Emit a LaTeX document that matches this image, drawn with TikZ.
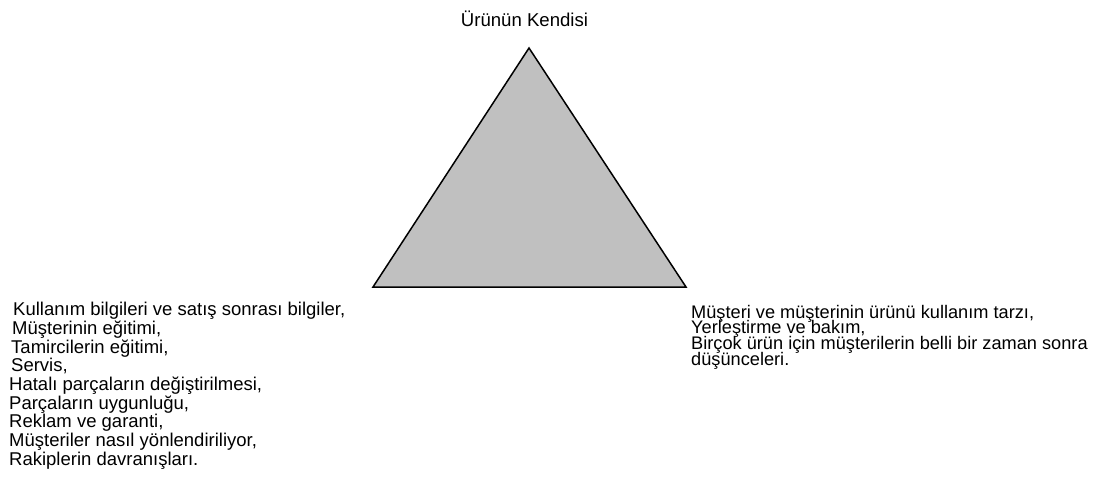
\documentclass[tikz,border=0pt]{standalone}
\usepackage{fontspec}
\setmainfont{Liberation Sans}
\definecolor{triGray}{HTML}{C0C0C0}
\newcommand\listfont{\fontsize{18.5}{18.7}\selectfont\lineskiplimit=-50pt\relax}
\newcommand\tightfont{\fontsize{18.2}{15.6}\selectfont\lineskiplimit=-50pt\relax}

\begin{document}
\begin{tikzpicture}[
  x=1pt, y=-1pt,
  lab/.style={inner sep=0pt, font=\fontsize{18.6}{18}\selectfont},
  list/.style={inner sep=0pt, align=left, font=\listfont},
  tightlist/.style={list, font=\tightfont},
  tri/.style={draw=black, line width=1.5pt, fill=triGray}
]

% --- Canvas ------------------------------------------------------------------
\useasboundingbox (0,0) rectangle (1107,478);

% --- Triangle ----------------------------------------------------------------
\coordinate (apex) at (529,48);
\coordinate (baseL) at (373,287);
\coordinate (baseR) at (686,287);
\draw[tri] (apex) -- (baseR) -- (baseL) -- cycle;

% --- Labels ------------------------------------------------------------------
\node[lab, anchor=base] (product) at (524.5,27) {Ürünün Kendisi};

\node[list, anchor=north west] (service) at (9,302) {%
  \hspace*{4pt}Kullanım bilgileri ve satış sonrası bilgiler,\\
  \hspace*{3pt}Müşterinin eğitimi,\\
  \hspace*{2pt}Tamircilerin eğitimi,\\
  \hspace*{2pt}Servis,\\
  Hatalı parçaların değiştirilmesi,\\
  Parçaların uygunluğu,\\
  Reklam ve garanti,\\
  Müşteriler nasıl yönlendiriliyor,\\
  Rakiplerin davranışları.};

\node[tightlist, anchor=north west] (usage) at (691,305) {%
  Müşteri ve müşterinin ürünü kullanım tarzı,\\
  Yerleştirme ve bakım,\\
  Birçok ürün için müşterilerin belli bir zaman sonra\\
  düşünceleri.};

\end{tikzpicture}
\end{document}
